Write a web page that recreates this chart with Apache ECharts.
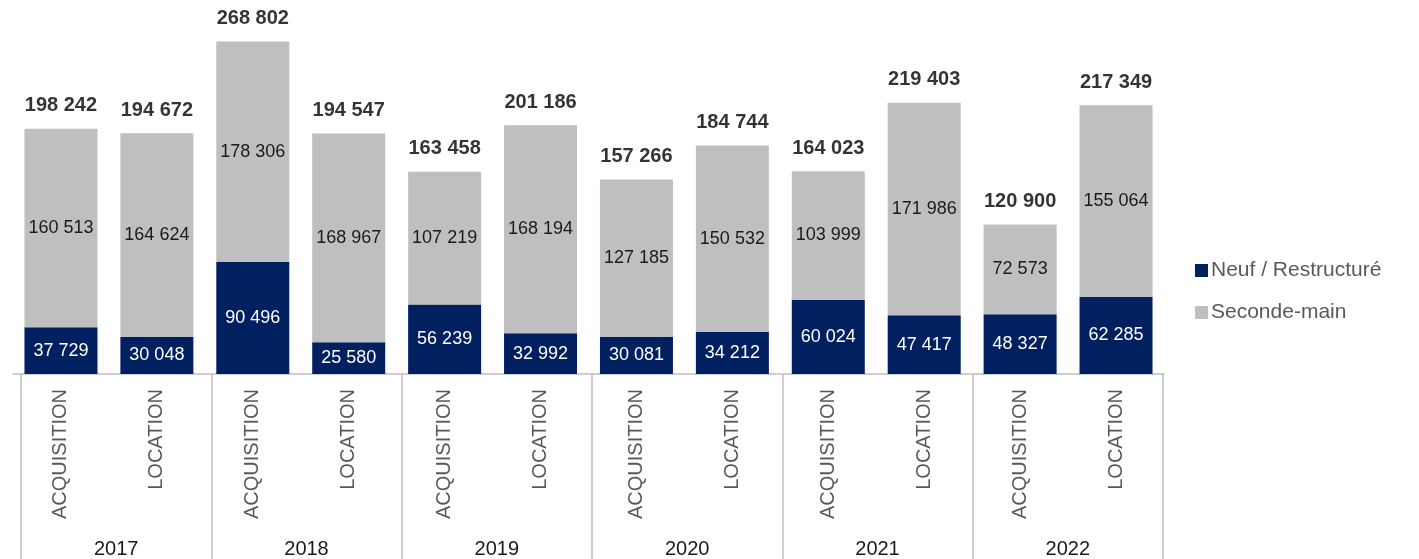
<!DOCTYPE html>
<html>
<head>
<meta charset="utf-8">
<script src="https://cdn.jsdelivr.net/npm/echarts@6/dist/echarts.min.js"></script>
<style>
  html, body { margin: 0; padding: 0; background: #ffffff; }
  #chart { width: 1419px; height: 559px; }
</style>
</head>
<body>
<div id="chart"></div>
<script>
// Transactions by year: acquisition vs. location, split new/refurbished vs. second-hand
const categories = ['ACQUISITION', 'LOCATION', 'ACQUISITION', 'LOCATION', 'ACQUISITION', 'LOCATION',
                    'ACQUISITION', 'LOCATION', 'ACQUISITION', 'LOCATION', 'ACQUISITION', 'LOCATION'];
const years = ['2017', '2018', '2019', '2020', '2021', '2022'];
const neuf = [37729, 30048, 90496, 25580, 56239, 32992, 30081, 34212, 60024, 47417, 48327, 62285];
const secondeMain = [160513, 164624, 178306, 168967, 107219, 168194, 127185, 150532, 103999, 171986, 72573, 155064];
const totals = neuf.map((v, i) => v + secondeMain[i]);

const FONT = 'Liberation Sans, Arial, sans-serif';
const NAVY = '#002060';
const GREY = '#bfbfbf';

function fmt(v) {
  return String(v).replace(/\B(?=(\d{3})+(?!\d))/g, ' ');
}

const chart = echarts.init(document.getElementById('chart'), null, { renderer: 'canvas' });

chart.setOption({
  animation: false,
  backgroundColor: '#ffffff',
  textStyle: { fontFamily: FONT },
  grid: [
    { left: 13, right: 255, top: 3, bottom: 185 },
    { left: 21, right: 256, top: 3, bottom: 185 }
  ],
  legend: {
    orient: 'vertical',
    left: 1190,
    top: 255,
    itemWidth: 13,
    itemHeight: 13,
    itemGap: 21,
    icon: 'rect',
    textStyle: { fontFamily: FONT, fontSize: 21, color: '#595959', padding: [0, 0, 0, -2] },
    data: ['Neuf / Restructuré', 'Seconde-main']
  },
  xAxis: [
    {
      type: 'category',
      gridIndex: 0,
      data: categories,
      axisLine: { show: true, lineStyle: { color: GREY, width: 1.5 } },
      axisTick: { show: false },
      axisLabel: {
        rotate: 90,
        margin: 15,
        fontSize: 20,
        color: '#595959',
        fontFamily: FONT,
        interval: 0
      }
    },
    {
      type: 'category',
      gridIndex: 1,
      data: years,
      position: 'bottom',
      axisLine: { show: false },
      axisTick: { show: true, length: 190, lineStyle: { color: GREY, width: 1.5 } },
      axisLabel: {
        margin: 165,
        fontSize: 20,
        color: '#1a1a1a',
        fontFamily: FONT,
        interval: 0
      }
    }
  ],
  yAxis: [
    { type: 'value', gridIndex: 0, min: 0, max: 300000, show: false },
    { type: 'value', gridIndex: 1, min: 0, max: 300000, show: false }
  ],
  series: [
    {
      name: 'Neuf / Restructuré',
      type: 'bar',
      stack: 'total',
      xAxisIndex: 0,
      yAxisIndex: 0,
      barWidth: 73,
      itemStyle: { color: NAVY },
      label: {
        show: true,
        position: 'inside',
        color: '#ffffff',
        fontSize: 18,
        fontFamily: FONT,
        formatter: p => fmt(p.value)
      },
      data: neuf
    },
    {
      name: 'Seconde-main',
      type: 'bar',
      stack: 'total',
      xAxisIndex: 0,
      yAxisIndex: 0,
      barWidth: 73,
      itemStyle: { color: GREY },
      label: {
        show: true,
        position: 'inside',
        color: '#1a1a1a',
        fontSize: 18,
        fontFamily: FONT,
        formatter: p => fmt(p.value)
      },
      data: secondeMain
    },
    {
      name: 'Total',
      type: 'scatter',
      xAxisIndex: 0,
      yAxisIndex: 0,
      symbolSize: 0,
      silent: true,
      label: {
        show: true,
        position: 'top',
        distance: 13,
        color: '#000000',
        fontWeight: 'bold',
        fontSize: 20,
        fontFamily: FONT,
        formatter: p => fmt(p.value)
      },
      data: totals
    }
  ]
});
</script>
</body>
</html>
